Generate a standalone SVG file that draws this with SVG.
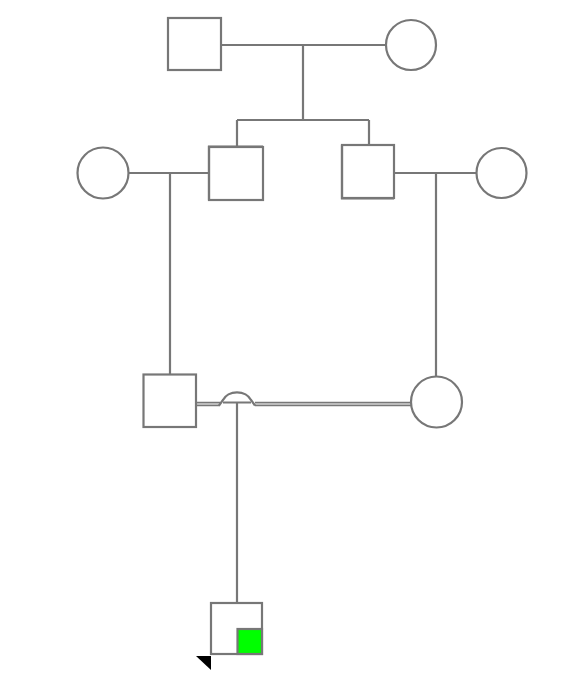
<svg xmlns="http://www.w3.org/2000/svg" width="583" height="689" viewBox="0 0 583 689">
<style>
.n{fill:#fff;stroke:#777;stroke-width:2.2}
.l{fill:none;stroke:#777;stroke-width:2.2}
.dbl{fill:none;stroke:#777;stroke-width:4.6}
.dblin{fill:none;stroke:#fff;stroke-width:1.2}
</style>
<rect width="583" height="689" fill="#fff"/>
<g id="connectors">
<path class="l" d="M221,45 H386 M303,45 V120 M237,120 H369 M237,120 V147 M369,120 V145"/>
<path class="l" d="M128,173 H209 M170,173 V374"/>
<path class="l" d="M394,173 H477 M436,173 V377"/>
<path class="dbl" d="M196,404 H220 M255,404 H411"/>
<path class="dblin" d="M196,404 H220.5 M254.5,404 H411"/>
<path class="l" d="M219,405.5 L223,400 A15 12 0 0 1 251 400 L255,405.5" stroke-width="2.6"/>
<path class="l" d="M223,402.5 H251 M237,402.5 V603"/>
</g>
<g id="gf"><rect class="n" x="168" y="18" width="53" height="52"/></g>
<g id="gm"><circle class="n" cx="411" cy="45" r="25"/></g>
<g id="f1"><rect class="n" x="209" y="147" width="54" height="53"/><path class="l" d="M209,200 V146.5 H263" stroke-width="3.2"/></g>
<g id="f2"><rect class="n" x="342" y="145" width="52" height="53"/><path class="l" d="M342,145 V198.5 H394" stroke-width="3.2"/></g>
<g id="m1"><circle class="n" cx="103" cy="173" r="25.5"/></g>
<g id="m2"><circle class="n" cx="501.5" cy="173" r="25"/></g>
<g id="p1"><rect class="n" x="143.5" y="374.5" width="52.5" height="52.5"/></g>
<g id="p2"><circle class="n" cx="436.5" cy="402" r="25.5"/></g>
<g id="child">
<rect class="n" x="211" y="603" width="51" height="51"/>
<rect x="237.5" y="629" width="24.5" height="25" fill="#00ff00" stroke="#777" stroke-width="2.2"/>
<polygon points="196,656 211,656 211,670" fill="#000"/>
</g>
</svg>
